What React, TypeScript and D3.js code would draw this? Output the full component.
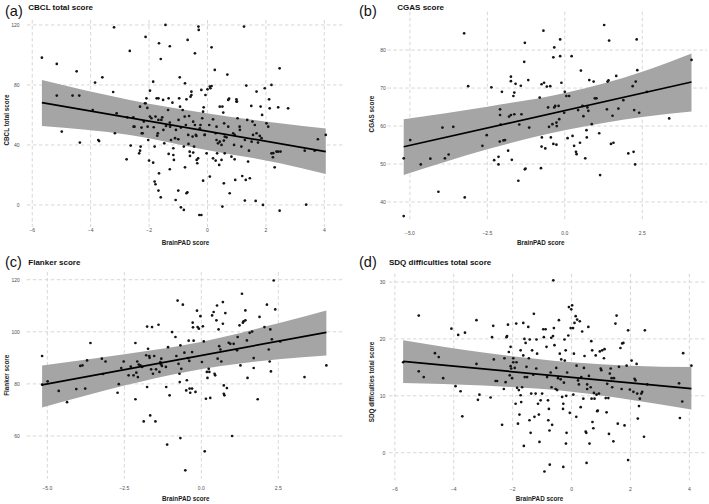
import React from "react";
import * as d3 from "d3";

// ---------- data ----------
const cbclPoints: [number, number][] = [
  [-5.67,98.2],[-5.16,94.0],[-5.16,72.9],[-4.99,48.9],[-4.62,72.9],[-4.48,89.1],[-4.39,72.9],[-4.37,41.6],[-3.93,63.3],[-3.85,81.6],
  [-3.74,43.3],[-3.71,42.6],[-3.6,85.1],[-3.2,118.4],[-3.23,75.3],[-3.17,47.8],[-3.11,61.1],[-2.66,102.7],[-2.75,58.4],[-2.63,39.6],
  [-2.77,30.4],[-2.54,58.4],[-2.5,52.2],[-2.34,34.4],[-2.31,36.2],[-2.29,38.9],[-2.26,51.6],[-2.22,47.8],[-2.12,112],[-2.09,71.1],
  [-2.12,67.8],[-2.18,55.6],[-2.06,64.7],[-2.05,52.2],[-2.03,43.3],[-1.97,76.2],[-2.0,29.6],[-1.92,57.8],[-1.86,82.2],[-1.86,28.2],
  [-1.84,51.8],[-1.81,38.9],[-1.78,58.9],[-1.81,15.6],[-1.78,13.8],[-1.74,71.1],[-1.72,46.2],[-1.7,47.8],[-1.68,71.1],[-1.66,107.8],
  [-1.66,21.1],[-1.68,9.6],[-1.6,5.1],[-1.6,97.3],[-1.58,56.7],[-1.55,58.4],[-1.52,70],[-1.48,41.1],[-1.44,120],[-1.42,52.7],
  [-1.35,63.3],[-1.33,71.1],[-1.29,105.8],[-1.33,34],[-1.29,23.8],[-1.29,54.9],[-1.25,43.3],[-1.2,68.2],[-1.17,37.8],[-1.17,33.3],
  [-1.15,30],[-1.09,3.3],[-1.08,50],[-1.0,43.8],[-1.0,9.6],[-0.97,71.1],[-0.95,85.1],[-0.91,51.6],[-0.91,-1.6],[-0.85,63.3],
  [-0.81,-3.3],[-0.77,81.1],[-0.81,38.9],[-0.77,25.1],[-0.74,53.3],[-0.72,70.4],[-0.68,110],[-0.69,8.4],[-0.72,7.8],[-0.65,40.7],
  [-0.63,59.3],[-0.6,32.7],[-0.58,72.2],[-0.55,73.3],[-0.51,45.6],[-0.49,34.9],[-0.46,38.9],[-0.43,101.1],[-0.4,46.7],[-0.37,30],
  [-0.35,27.8],[-0.31,118.9],[-0.3,116.7],[-0.28,-6.7],[-0.21,-6.7],[-0.24,53.3],[-0.18,57.8],[-0.15,62.2],[-0.15,16.2],[-0.13,65.1],
  [-0.1,46.7],[-0.07,73.3],[-0.03,34.4],[0,77.1],[0.06,53.3],[0.08,18.9],[0.1,77.8],[0.14,105.1],[0.14,79.3],[0.19,57.1],
  [0.25,90],[0.28,47.8],[0.28,29.6],[0.31,52.2],[0.33,34.4],[0.36,41.1],[0.4,26.7],[0.48,40],[0.51,65.6],[0.54,61.6],
  [0.56,42.9],[0.57,54.4],[0.59,34.4],[0.51,-1.1],[0.56,14.4],[0.65,45.1],[0.68,86.9],[0.74,70.9],[0.76,7.8],[0.88,47.8],
  [0.91,40],[0.93,30.4],[0.95,16.7],[0.99,70.4],[1.01,68.9],[1.03,57.8],[1.1,52.2],[1.16,38.9],[1.19,19.3],[1.25,118.9],
  [1.28,2.9],[1.31,16.7],[1.33,79.6],[1.36,56.7],[1.39,28.9],[1.42,36.2],[1.45,17.8],[1.5,66],[1.54,55.6],[1.56,46.7],
  [1.62,53.3],[1.65,2.7],[1.68,75.6],[1.73,41.6],[1.79,46],[1.82,65.6],[1.87,60],[1.9,0],[1.96,77.8],[2.02,54.4],
  [2.08,52.2],[2.11,70.4],[2.13,64.4],[2.19,80],[2.19,34.4],[2.24,31.8],[2.3,25.1],[2.36,35.6],[2.42,65.1],[2.47,91.1],
  [2.47,-3.8],[2.5,35.6],[2.76,64.4],[3.33,36.2],[3.38,0.2],[3.67,36.2],[3.78,43.8],[4.05,46.7],
  [-0.78,58.9],[-0.49,55.5],[-0.43,53.3],[-0.26,51.1],[-0.09,46.7],[-0.66,46.7],[-0.38,46],[-0.61,35.5],[-0.32,31.1],[0.31,43.3],
  [0.42,42.2],[0.59,45.5],[0.71,52.2],[0.93,46.7],[1.11,50],[1.28,43.3],[1.51,42.2],[1.68,47.8],[1.85,44.5],[2.25,34.5],
  [2.42,35.5],[0.19,31.1],[0.48,30],[0.82,32.2],[-0.55,75.5],[-0.21,76.7],[0.08,78.9],[0.42,65.5],[0.71,70],[0.99,68.9],
  [-2.31,65.5],[-2.14,67.8],[-1.97,58.9],[-1.68,56.7],[-1.51,50],[-1.28,52.2],[-1.11,44.5],[-0.99,56.7],[-0.94,65.5],[-2.53,52.2],
  [-2.25,47.8],
];
const cbclFit: [number, number][] = [[-5.67, 68.2], [4.05, 35.6]];
const cbclBand: [number, number, number][] = [
  [-5.67, 52.7, 83.3], [-2.66, 46.7, 70.0], [-0.03, 36.7, 61.1], [2.48, 27.8, 54.4], [4.05, 20.7, 51.0],
];
const cbclXTicks = [-6, -4, -2, 0, 2, 4];
const cbclYTicks = [0, 40, 80, 120];

const cgasPoints: [number, number][] = [
  [-5.2,51.5],[-5.2,36.3],[-4.99,56.3],[-4.65,49.9],[-4.34,51.4],[-4.08,42.7],[-3.95,59.6],[-3.87,51.5],[-3.75,52.5],[-3.6,59.8],
  [-3.25,84.4],[-3.12,70.5],[-3.23,41.2],[-2.66,54.8],[-2.52,57.6],[-2.37,70.2],[-2.28,51],[-2.14,51.9],[-2.14,49.9],[-2.1,55.9],
  [-2.09,64.4],[-2.09,62.9],[-2.07,60.4],[-2.03,69],[-1.98,56.2],[-1.93,56.3],[-1.83,53.5],[-1.71,51.1],[-1.8,62.5],[-1.74,62.9],
  [-1.74,73],[-1.74,71.8],[-1.63,68.8],[-1.66,67.9],[-1.63,63.1],[-1.59,71.1],[-1.5,45.6],[-1.47,60.4],[-1.42,70.6],[-1.4,63.1],
  [-1.31,76.9],[-1.29,81.9],[-1.29,48.6],[-1.27,48.8],[-1.18,72.1],[-1.15,59.6],[-0.81,67.5],[-0.77,48.9],[-0.75,54.6],[-0.75,71],
  [-0.74,57],[-0.69,85.1],[-0.67,71.4],[-0.63,54.1],[-0.58,70.4],[-0.54,64.9],[-0.51,59.8],[-0.47,70.5],[-0.45,57],[-0.4,60.5],
  [-0.37,55.3],[-0.37,78.1],[-0.34,64.9],[-0.34,80.7],[-0.31,65.3],[-0.27,55.1],[-0.27,60.9],[-0.26,60],[-0.2,65.3],[-0.18,61.8],
  [-0.15,82.8],[-0.15,78.4],[-0.11,71.4],[-0.02,63.5],[0,69],[0.05,67.9],[0.09,56.8],[0.14,67.9],[0.22,78.4],[0.25,57.4],
  [0.3,54.8],[0.36,53.2],[0.38,52.6],[0.43,64.2],[0.49,55.6],[0.52,74.6],[0.57,65.3],[0.6,62.6],[0.66,51.5],[0.7,58.9],
  [0.71,57],[0.73,64.9],[0.76,64],[0.79,72.1],[0.87,60.5],[0.93,71.7],[0.97,67.3],[1.02,67.3],[1.11,58.1],[1.14,47.1],
  [1.27,86.6],[1.36,64.4],[1.38,71.7],[1.41,72],[1.43,82.5],[1.49,55.3],[1.54,62.7],[1.57,55.6],[1.66,73.2],[1.73,64.6],
  [1.89,66.8],[2.05,52.8],[2.19,70.5],[2.22,53.2],[2.24,64.2],[2.27,49.9],[2.29,71.7],[2.32,82.8],[2.34,74.7],[2.4,63.5],
  [2.65,69],[3.37,62],[4.09,77.4],
];
const cgasFit: [number, number][] = [[-5.2, 54.55], [4.09, 71.6]];
const cgasBand: [number, number, number][] = [
  [-5.2, 47.1, 61.8], [-2.5, 53.9, 65.1], [0, 58.9, 68.7], [2.5, 62.4, 74.3], [4.09, 63.8, 79.1],
];
const cgasXTicks = [-5, -2.5, 0, 2.5];
const cgasYTicks = [40, 50, 60, 70, 80];

const flankerPoints: [number, number][] = [
  [-5.17,90.7],[-5.17,79.7],[-4.99,81],[-4.63,77.3],[-4.36,73],[-4.06,78],[-3.93,86.9],[-3.86,87.1],[-3.77,78.2],[-3.71,89],
  [-3.6,95.7],[-3.23,89.7],[-3.19,83.8],[-3.11,88.6],[-2.72,76.6],[-2.68,79.9],[-2.6,86.1],[-2.52,88.6],[-2.36,83.3],[-2.29,86.6],
  [-2.2,83.3],[-2.14,95.7],[-2.14,74.1],[-2.11,84.3],[-2.08,88.6],[-2.06,82.6],[-2.03,87.4],[-1.98,87.1],[-1.92,86.5],[-1.87,65.6],
  [-1.79,91],[-1.76,102],[-1.76,78.8],[-1.73,93.5],[-1.69,90.7],[-1.68,90],[-1.66,67.9],[-1.63,85.6],[-1.6,101.8],[-1.57,83.9],
  [-1.53,90.7],[-1.49,65.6],[-1.47,85.6],[-1.39,102.7],[-1.36,84.6],[-1.33,88.4],[-1.31,87.5],[-1.3,89.7],[-1.28,86.9],[-1.15,86.5],
  [-1.14,78.8],[-1.11,56.7],[-1.08,94.1],[-1.03,75.6],[-0.95,99.9],[-0.84,98],[-0.81,90.7],[-0.77,112],[-0.74,87.7],[-0.71,83.9],
  [-0.7,80.7],[-0.68,94.8],[-0.68,59.2],[-0.65,85.8],[-0.6,110.4],[-0.55,92],[-0.52,46.8],[-0.49,77.5],[-0.47,81.4],[-0.43,89.9],
  [-0.41,96.6],[-0.39,88.8],[-0.38,78.2],[-0.36,76.6],[-0.3,78.2],[-0.3,92.2],[-0.28,103.5],[-0.27,101.7],[-0.25,96.6],[-0.19,76.9],
  [-0.14,108.1],[-0.12,101.8],[-0.08,101.2],[-0.03,106],[0.02,88.4],[0.05,102.1],[0.08,96.3],[0.11,54.1],[0.15,74.3],[0.18,84.6],
  [0.2,82.3],[0.24,85.8],[0.26,84.6],[0.29,74.6],[0.35,106.3],[0.4,107.6],[0.43,83.9],[0.45,83.3],[0.49,104.4],[0.51,110.1],
  [0.53,89.7],[0.56,100.9],[0.58,94.5],[0.62,93.2],[0.65,88.6],[0.7,111.4],[0.7,103.1],[0.73,79.4],[0.73,76.2],[0.75,75.6],
  [0.78,107.2],[0.83,78.4],[0.89,95.8],[0.94,95.4],[1,60],[1.05,95.4],[1.16,92.9],[1.18,98],[1.24,102.5],[1.27,87.1],
  [1.32,114.6],[1.35,103.5],[1.37,104],[1.43,108.2],[1.43,104.4],[1.48,96.7],[1.5,82.3],[1.57,99.6],[1.65,100.1],[1.7,89.9],
  [1.7,86.1],[1.83,74.1],[1.89,105.7],[2.05,101.8],[2.13,110.4],[2.19,93.2],[2.22,88.6],[2.24,100.9],[2.26,84.8],[2.29,97.1],
  [2.35,119.7],[2.4,108.6],[2.56,96.3],[3.35,82.6],[4.06,87.1],
];
const flankerFit: [number, number][] = [[-5.17, 79.6], [4.06, 99.8]];
const flankerBand: [number, number, number][] = [
  [-5.17, 70.9, 87.1], [-2.5, 79.4, 91.4], [-0.5, 84.6, 95.0], [2.5, 89.5, 103.3], [4.06, 90.9, 108.2],
];
const flankerXTicks = [-5, -2.5, 0, 2.5];
const flankerYTicks = [60, 80, 100, 120];

const sdqPoints: [number, number][] = [
  [-5.72,15.9],[-5.19,24.1],[-5.19,14.3],[-5.02,13.3],[-4.64,17.5],[-4.51,16.8],[-4.36,13.1],[-4.08,21.8],[-3.94,11.7],[-3.85,20.7],
  [-3.77,10.8],[-3.71,6.4],[-3.62,21.1],[-3.23,23.3],[-3.23,15.6],[-3.18,9.3],[-3.13,10.2],[-2.75,9.7],[-2.7,20.3],[-2.66,22.3],
  [-2.64,16.4],[-2.58,12.6],[-2.53,12.6],[-2.36,4.9],[-2.3,11.2],[-2.28,16.6],[-2.24,12.4],[-2.21,20.3],[-2.19,20.5],[-2.16,22.5],
  [-2.13,17.7],[-2.1,13.6],[-2.07,18.6],[-2.07,15.2],[-2.05,14.8],[-2.02,13.1],[-1.98,16.6],[-1.98,15.9],[-1.93,14.9],[-1.9,8.6],
  [-1.88,22.7],[-1.87,15.9],[-1.85,11.4],[-1.82,5.1],[-1.79,11],[-1.77,6.7],[-1.73,18],[-1.73,10.1],[-1.71,8.9],[-1.68,11.5],
  [-1.64,17.1],[-1.64,22.8],[-1.62,1.2],[-1.6,20],[-1.59,13.3],[-1.56,19.3],[-1.53,15.1],[-1.51,13.3],[-1.47,22.1],[-1.45,16.6],
  [-1.43,5.7],[-1.42,19.9],[-1.39,3.5],[-1.37,10.4],[-1.34,18],[-1.3,13.7],[-1.28,24.4],[-1.26,6.3],[-1.22,10.4],[-1.2,14.8],
  [-1.19,19.9],[-1.17,17.4],[-1.14,8.6],[-1.11,6.7],[-1.09,1.9],[-1.05,9.2],[-1,10.4],[-0.96,21.7],[-0.94,20.3],[-0.92,-3.3],
  [-0.88,21.7],[-0.85,18.6],[-0.83,13.3],[-0.8,9.2],[-0.79,5.7],[-0.77,7.7],[-0.75,3.9],[-0.74,-2.1],[-0.71,14.1],[-0.69,20.2],
  [-0.68,11.5],[-0.66,4.9],[-0.63,20.5],[-0.62,30.3],[-0.6,21.9],[-0.58,18.9],[-0.54,11.2],[-0.52,14.9],[-0.49,11],[-0.46,13.1],
  [-0.43,23.3],[-0.4,17.4],[-0.37,12.9],[-0.35,16.4],[-0.32,9.8],[-0.29,7.7],[-0.28,-2.5],[-0.28,8.6],[-0.26,12.3],[-0.24,19.9],
  [-0.23,16.2],[-0.2,18],[-0.19,1.6],[-0.18,10],[-0.17,3.5],[-0.15,14.1],[-0.11,20.6],[-0.09,25.6],[-0.06,7],[-0.03,21.9],
  [-0.01,25.2],[0.02,25.9],[0.05,21.9],[0.06,10.2],[0.08,17.4],[0.1,22.8],[0.14,24],[0.16,6.3],[0.17,15.3],[0.19,23.4],
  [0.22,12.7],[0.25,12],[0.28,23.1],[0.31,8],[0.33,13.3],[0.36,21.3],[0.4,9.5],[0.42,14.9],[0.44,17],[0.48,3.7],
  [0.5,3.5],[0.51,-1.8],[0.53,12],[0.53,11.2],[0.57,22.1],[0.59,13.5],[0.61,1.6],[0.65,11.5],[0.67,19.6],[0.68,9.5],
  [0.7,18],[0.71,5.4],[0.74,4.3],[0.76,10.5],[0.78,9.5],[0.82,17.1],[0.85,10.2],[0.87,7.3],[0.89,7.4],[0.93,10.4],
  [0.96,17.8],[0.99,14.8],[1.01,14.5],[1.04,18],[1.1,16.6],[1.12,18.2],[1.16,9.6],[1.19,7.1],[1.21,12.1],[1.25,9.6],
  [1.27,3.3],[1.3,13.9],[1.33,14.8],[1.36,13.1],[1.38,11.5],[1.42,2],[1.44,13.1],[1.49,22.7],[1.53,24.1],[1.57,5.1],
  [1.61,15.1],[1.66,18.4],[1.7,11.2],[1.72,19.2],[1.76,19.3],[1.8,4.8],[1.87,15.3],[1.92,21.5],[1.92,-1.3],[1.98,11.1],
  [2.04,16.2],[2.1,10.7],[2.14,13],[2.17,12.7],[2.21,15.6],[2.23,10.4],[2.25,6],[2.29,8.2],[2.32,9.5],[2.37,10.4],
  [2.4,10.7],[2.46,2.8],[2.49,21.5],[2.57,12],[3.65,12.2],[3.68,6.1],[3.76,9],[3.79,17.5],[4.07,15.3],
];
const sdqFit: [number, number][] = [[-5.72, 16.06], [4.07, 11.25]];
const sdqBand: [number, number, number][] = [
  [-5.72, 12.25, 19.75], [-3, 11.8, 17.6], [0, 10.7, 15.9], [2, 9.3, 15.3], [4.07, 7.6, 15.06],
];
const sdqXTicks = [-6, -4, -2, 0, 2, 4];
const sdqYTicks = [0, 10, 20, 30];

const panelLetters = ["(a)", "(b)", "(c)", "(d)"];
const panelTitles = ["CBCL total score", "CGAS score", "Flanker score", "SDQ difficulties total score"];
const yTitles = ["CBCL total score", "CGAS score", "Flanker score", "SDQ difficulties total score"];
const xTitle = "BrainPAD score";

// ---------- layout ----------
const W = 709;
const H = 504;
const FONT = "'Liberation Sans', Arial, Helvetica, sans-serif";

type PanelCfg = {
  points: [number, number][];
  fit: [number, number][];
  band: [number, number, number][];
  xTicks: number[];
  yTicks: number[];
  xFmt: (v: number) => string;
  x0: number; x1: number; y0: number; y1: number;
  xDomain: [number, number];
  yDomain: [number, number];
  letter: string; title: string; yTitle: string;
  letterPos: [number, number];
  titlePos: [number, number];
  xTitlePos: [number, number];
  yTitlePos: [number, number];
  xTickY: number;
  yTickX: number;
};

const intFmt = (v: number) => d3.format("d")(v);
const oneFmt = (v: number) => d3.format(".1f")(v);

const panels: PanelCfg[] = [
  {
    points: cbclPoints, fit: cbclFit, band: cbclBand, xTicks: cbclXTicks, yTicks: cbclYTicks, xFmt: intFmt,
    x0: 27, x1: 343, y0: 20, y1: 227, xDomain: [-6.18, 4.64], yDomain: [-14.7, 123.3],
    letter: panelLetters[0], title: panelTitles[0], yTitle: yTitles[0],
    letterPos: [5, 15.5], titlePos: [28.3, 9.6], xTitlePos: [185.5, 244.8], yTitlePos: [9.2, 120],
    xTickY: 232.3, yTickX: 19.5,
  },
  {
    points: cgasPoints, fit: cgasFit, band: cgasBand, xTicks: cgasXTicks, yTicks: cgasYTicks, xFmt: oneFmt,
    x0: 387.3, x1: 707, y0: 11.7, y1: 220, xDomain: [-5.73, 4.59], yDomain: [35.26, 90.1],
    letter: panelLetters[1], title: panelTitles[1], yTitle: yTitles[1],
    letterPos: [359, 15.5], titlePos: [397.3, 9.6], xTitlePos: [540.7, 244.8], yTitlePos: [373.8, 114],
    xTickY: 234.5, yTickX: 385.7,
  },
  {
    points: flankerPoints, fit: flankerFit, band: flankerBand, xTicks: flankerXTicks, yTicks: flankerYTicks, xFmt: oneFmt,
    x0: 26.7, x1: 343.3, y0: 272, y1: 478.7, xDomain: [-5.67, 4.61], yDomain: [43.6, 122.96],
    letter: panelLetters[2], title: panelTitles[2], yTitle: yTitles[2],
    letterPos: [5, 266.5], titlePos: [28.3, 265], xTitlePos: [185.8, 500.5], yTitlePos: [8.8, 375.3],
    xTickY: 490.3, yTickX: 19.8,
  },
  {
    points: sdqPoints, fit: sdqFit, band: sdqBand, xTicks: sdqXTicks, yTicks: sdqYTicks, xFmt: intFmt,
    x0: 389, x1: 707, y0: 273.7, y1: 480.3, xDomain: [-6.2, 4.6], yDomain: [-4.85, 31.46],
    letter: panelLetters[3], title: panelTitles[3], yTitle: yTitles[3],
    letterPos: [359, 266.5], titlePos: [389, 265], xTitlePos: [539.5, 500.5], yTitlePos: [373.8, 382],
    xTickY: 490.8, yTickX: 385.2,
  },
];

function Panel({ cfg }: { cfg: PanelCfg }) {
  const x = d3.scaleLinear().domain(cfg.xDomain).range([cfg.x0, cfg.x1]);
  const y = d3.scaleLinear().domain(cfg.yDomain).range([cfg.y1, cfg.y0]);
  const area = d3
    .area<[number, number, number]>()
    .x((d) => x(d[0]))
    .y0((d) => y(d[1]))
    .y1((d) => y(d[2]))
    .curve(d3.curveMonotoneX);
  const line = d3
    .line<[number, number]>()
    .x((d) => x(d[0]))
    .y((d) => y(d[1]));
  const gridStyle = { stroke: "#d2d2d2", strokeWidth: 0.9, strokeDasharray: "3.5,2.5" };
  return (
    <g>
      {cfg.xTicks.map((t) => (
        <line key={"vx" + t} x1={x(t)} x2={x(t)} y1={cfg.y0} y2={cfg.y1} {...gridStyle} />
      ))}
      {cfg.yTicks.map((t) => (
        <line key={"hy" + t} x1={cfg.x0} x2={cfg.x1} y1={y(t)} y2={y(t)} {...gridStyle} />
      ))}
      <path d={area(cfg.band) || ""} fill="#a5a5a5" />
      {cfg.points.map((p, i) => (
        <circle key={i} cx={x(p[0])} cy={y(p[1])} r={1.35} fill="#141414" />
      ))}
      <path d={line(cfg.fit) || ""} fill="none" stroke="#000" strokeWidth={1.7} />
      {cfg.xTicks.map((t) => (
        <text key={"tx" + t} x={x(t)} y={cfg.xTickY} fontSize={5} fill="#4d4d4d" textAnchor="middle" fontFamily={FONT}>
          {cfg.xFmt(t)}
        </text>
      ))}
      {cfg.yTicks.map((t) => (
        <text key={"ty" + t} x={cfg.yTickX} y={y(t) + 1.8} fontSize={5} fill="#4d4d4d" textAnchor="end" fontFamily={FONT}>
          {t}
        </text>
      ))}
      <text x={cfg.letterPos[0]} y={cfg.letterPos[1]} fontSize={14.5} fill="#111" fontFamily={FONT}>
        {cfg.letter}
      </text>
      <text x={cfg.titlePos[0]} y={cfg.titlePos[1]} fontSize={8} fontWeight="bold" fill="#111" fontFamily={FONT}>
        {cfg.title}
      </text>
      <text
        x={cfg.xTitlePos[0]}
        y={cfg.xTitlePos[1]}
        fontSize={6.3}
        fontWeight="bold"
        fill="#1a1a1a"
        textAnchor="middle"
        fontFamily={FONT}
      >
        {xTitle}
      </text>
      <text
        transform={`translate(${cfg.yTitlePos[0]},${cfg.yTitlePos[1]}) rotate(-90)`}
        fontSize={6.3}
        fontWeight="bold"
        fill="#1a1a1a"
        textAnchor="middle"
        fontFamily={FONT}
      >
        {cfg.yTitle}
      </text>
    </g>
  );
}

export default function App() {
  return (
    <svg
      width={W}
      height={H}
      viewBox={`0 0 ${W} ${H}`}
      style={{ position: "absolute", left: 0, top: 0, display: "block", background: "#fff" }}
    >
      <rect x={0} y={0} width={W} height={H} fill="#fff" />
      {panels.map((p, i) => (
        <Panel key={i} cfg={p} />
      ))}
    </svg>
  );
}
